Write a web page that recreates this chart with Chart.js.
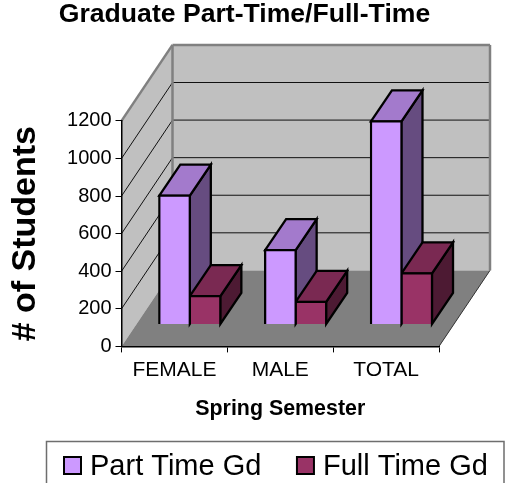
<!DOCTYPE html>
<html lang="en">
<head>
<meta charset="UTF-8">
<title>Graduate Part-Time/Full-Time</title>
<script src="https://cdn.jsdelivr.net/npm/chart.js"></script>
<style>
    html, body { margin: 0; padding: 0; background: #fff; overflow: hidden; }
    canvas { display: block; }
</style>
</head>
<body>
<canvas id="chart" width="505" height="483"></canvas>
<script>
    const categories = ['FEMALE', 'MALE', 'TOTAL'];
    const partTime = [685, 395, 1080];
    const fullTime = [150, 120, 272];
    const seriesNames = ['Part Time Gd', 'Full Time Gd'];

    const FONT = '"Liberation Sans", Arial, sans-serif';

    // 3D look: how far the back wall sits from the front plane, where the bars
    // stand on the floor and how deep each bar is
    const WALL_DX = 51, WALL_DY = -76;
    const BAR_DX = 15.4, BAR_DY = -22;
    const DEPTH_DX = 21, DEPTH_DY = -31;

    function line(ctx, x1, y1, x2, y2, color, width) {
        ctx.strokeStyle = color;
        ctx.lineWidth = width;
        ctx.beginPath();
        ctx.moveTo(x1, y1);
        ctx.lineTo(x2, y2);
        ctx.stroke();
    }

    function poly(ctx, pts, fill) {
        ctx.beginPath();
        pts.forEach((p, i) => i ? ctx.lineTo(p[0], p[1]) : ctx.moveTo(p[0], p[1]));
        ctx.closePath();
        ctx.fillStyle = fill;
        ctx.fill();
        ctx.strokeStyle = '#000';
        ctx.lineWidth = 2.3;
        ctx.lineJoin = 'miter';
        ctx.stroke();
    }

    const box3d = {
        id: 'box3d',
        // move title and legend to where the original has them
        afterLayout(chart) {
            chart.titleBlock.left = 0;
            chart.titleBlock.right = 489;
            chart.legend.left = 28.4;
            chart.legend.right = 600;
            chart.legend.top = 417.5;
            chart.legend.bottom = 520;
        },
        // walls and floor, under the axes
        beforeDraw(chart) {
            const ctx = chart.ctx, y = chart.scales.y;
            const { left: l, right: r } = chart.chartArea;
            const y0 = y.getPixelForValue(0), yTop = y.getPixelForValue(1200);
            ctx.save();
            ctx.fillStyle = '#c0c0c0';
            ctx.beginPath();
            ctx.moveTo(l, y0);
            ctx.lineTo(l, yTop);
            ctx.lineTo(l + WALL_DX, yTop + WALL_DY);
            ctx.lineTo(r + WALL_DX, yTop + WALL_DY);
            ctx.lineTo(r + WALL_DX, y0 + WALL_DY);
            ctx.lineTo(l + WALL_DX, y0 + WALL_DY);
            ctx.closePath();
            ctx.fill();
            ctx.fillStyle = '#808080';
            ctx.beginPath();
            ctx.moveTo(l, y0);
            ctx.lineTo(r, y0);
            ctx.lineTo(r + WALL_DX, y0 + WALL_DY);
            ctx.lineTo(l + WALL_DX, y0 + WALL_DY);
            ctx.closePath();
            ctx.fill();

            y.ticks.forEach(t => {
                if (t.value === 0 || t.value === 1200) return;
                const py = y.getPixelForValue(t.value);
                line(ctx, l, py, l + WALL_DX, py + WALL_DY, '#111', 1);
                line(ctx, l + WALL_DX, py + WALL_DY, r + WALL_DX, py + WALL_DY, '#111', 1);
            });

            const yBack = yTop + WALL_DY;
            line(ctx, l, yTop, l + WALL_DX, yBack, '#808080', 2.5);
            line(ctx, l + WALL_DX, yBack, r + WALL_DX, yBack, '#808080', 2.5);
            line(ctx, l + WALL_DX, yBack, l + WALL_DX, y0 + WALL_DY, '#808080', 2.5);
            line(ctx, r + WALL_DX, yBack, r + WALL_DX, y0 + WALL_DY, '#808080', 2.5);
            line(ctx, r, y0, r + WALL_DX, y0 + WALL_DY, '#333', 1);
            ctx.restore();
        },
        // top and side faces; the library then draws the front faces in the same shifted frame
        beforeDatasetsDraw(chart) {
            const ctx = chart.ctx;
            ctx.save();
            ctx.translate(BAR_DX, BAR_DY);
            categories.forEach((c, j) => {
                chart.data.datasets.forEach((ds, i) => {
                    const bar = chart.getDatasetMeta(i).data[j];
                    const x1 = bar.x - bar.width / 2, x2 = bar.x + bar.width / 2;
                    poly(ctx, [[x2, bar.y], [x2 + DEPTH_DX, bar.y + DEPTH_DY], [x2 + DEPTH_DX, bar.base + DEPTH_DY], [x2, bar.base]], ds.sideColor);
                    poly(ctx, [[x1, bar.y], [x1 + DEPTH_DX, bar.y + DEPTH_DY], [x2 + DEPTH_DX, bar.y + DEPTH_DY], [x2, bar.y]], ds.topColor);
                });
            });
        },
        afterDatasetsDraw(chart) {
            chart.ctx.restore();
        },
        // legend frame (runs off the bottom of the picture) and full-size swatches
        afterDraw(chart) {
            const ctx = chart.ctx;
            ctx.save();
            ctx.strokeStyle = '#6e6e6e';
            ctx.lineWidth = 1.5;
            ctx.beginPath();
            ctx.moveTo(46.5, 483);
            ctx.lineTo(46.5, 441.5);
            ctx.lineTo(504, 441.5);
            ctx.lineTo(504, 483);
            ctx.stroke();
            chart.legend.legendHitBoxes.forEach((hb, i) => {
                ctx.fillStyle = chart.data.datasets[i].backgroundColor;
                ctx.fillRect(hb.left + 1, 457, 17, 17);
                ctx.strokeStyle = '#000';
                ctx.lineWidth = 2;
                ctx.strokeRect(hb.left + 1, 457, 17, 17);
            });
            ctx.restore();
        }
    };

    new Chart(document.getElementById('chart'), {
        type: 'bar',
        data: {
            labels: categories,
            datasets: [
                {
                    label: seriesNames[0],
                    data: partTime,
                    backgroundColor: '#cc99ff',
                    topColor: '#a37acc',
                    sideColor: '#664c80'
                },
                {
                    label: seriesNames[1],
                    data: fullTime,
                    backgroundColor: '#993366',
                    topColor: '#7a2952',
                    sideColor: '#4d1a33'
                }
            ]
        },
        options: {
            responsive: false,
            animation: false,
            events: [],
            layout: { padding: { left: 0, right: 0, top: 0, bottom: 24 } },
            datasets: {
                bar: {
                    categoryPercentage: 0.577,
                    barPercentage: 1,
                    borderColor: '#000',
                    borderWidth: 2.3,
                    inflateAmount: 1.15,
                    clip: false
                }
            },
            plugins: {
                tooltip: { enabled: false },
                title: {
                    display: true,
                    text: 'Graduate Part-Time/Full-Time',
                    color: '#000',
                    font: { family: FONT, size: 26.6, weight: 'bold' },
                    padding: { top: -1, bottom: 90 }
                },
                legend: {
                    display: true,
                    position: 'bottom',
                    align: 'start',
                    labels: {
                        color: '#000',
                        font: { family: FONT, size: 29 },
                        boxWidth: 12.5,
                        boxHeight: 18,
                        padding: 34.6,
                        // the swatch is painted wider in afterDraw, this keeps the text gap
                        generateLabels: c => Chart.defaults.plugins.legend.labels.generateLabels(c)
                            .map(item => ({ ...item, fillStyle: 'transparent', strokeStyle: 'transparent' }))
                    }
                }
            },
            scales: {
                x: {
                    afterFit(s) { s.height = 39; },
                    border: { display: true, color: '#000', width: 1.5 },
                    grid: { drawOnChartArea: false, drawTicks: true, tickLength: 6, color: '#000', offset: true },
                    ticks: { color: '#000', font: { family: FONT, size: 21 }, padding: 5, maxRotation: 0, autoSkip: false },
                    title: {
                        display: true,
                        text: 'Spring Semester',
                        color: '#000',
                        font: { family: FONT, size: 21.4, weight: 'bold' },
                        padding: { top: 0, bottom: -37 }
                    }
                },
                y: {
                    min: 0,
                    max: 1200,
                    afterFit(s) { s.width = 121.5; },
                    border: { display: true, color: '#000', width: 1.5 },
                    grid: { drawOnChartArea: false, drawTicks: true, tickLength: 6, color: '#000' },
                    ticks: { stepSize: 200, color: '#000', font: { family: FONT, size: 20 }, padding: 4, format: { useGrouping: false } },
                    title: {
                        display: true,
                        text: '# of Students',
                        color: '#000',
                        font: { family: FONT, size: 34, weight: 'bold' },
                        padding: { top: 5, bottom: 0 }
                    }
                },
                // empty axis: only holds the space right of the plot for the 3D depth
                depthSpace: {
                    type: 'linear',
                    position: 'right',
                    afterFit(s) { s.width = 66; },
                    border: { display: false },
                    grid: { display: false },
                    ticks: { display: false }
                }
            }
        },
        plugins: [box3d]
    });
</script>
</body>
</html>
